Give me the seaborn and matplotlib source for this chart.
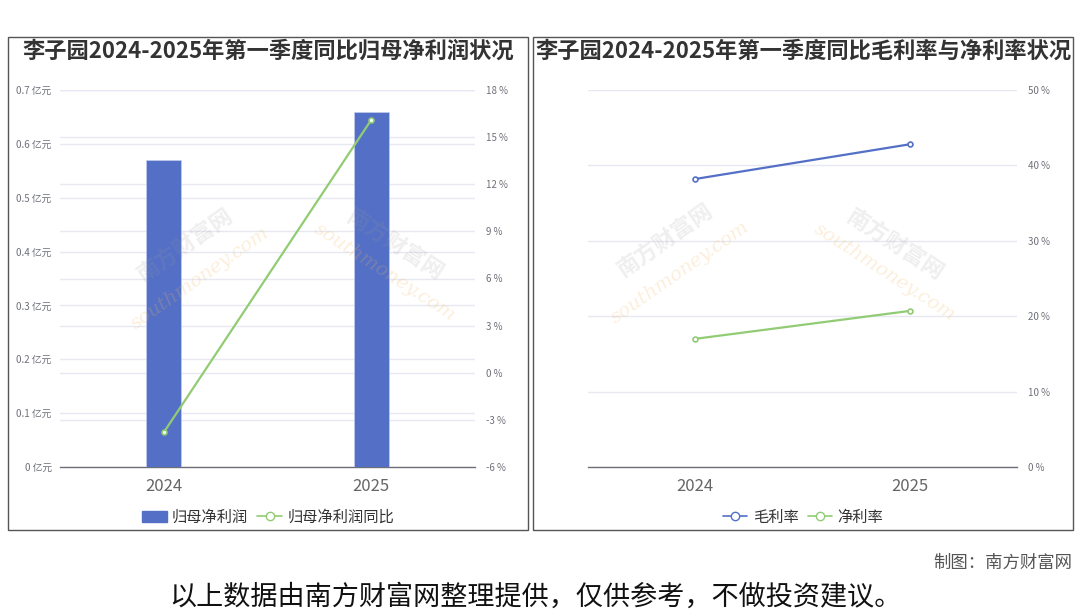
import matplotlib
matplotlib.use("Agg")
import matplotlib.pyplot as plt
import seaborn as sns
from matplotlib.patches import Rectangle, Patch
from matplotlib.lines import Line2D
from matplotlib.transforms import blended_transform_factory

# ---------------- data ----------------
years = ["2024", "2025"]
net_profit = [0.57, 0.66]          # 归母净利润 (亿元)
net_profit_yoy = [-3.8, 16.1]      # 归母净利润同比 (%)
gross_margin = [38.2, 42.8]        # 毛利率 (%)
net_margin = [17.0, 20.7]          # 净利率 (%)

profit_ticks = [0, 0.1, 0.2, 0.3, 0.4, 0.5, 0.6, 0.7]
yoy_ticks = [-6, -3, 0, 3, 6, 9, 12, 15, 18]
margin_ticks = [0, 10, 20, 30, 40, 50]

title_left = "李子园2024-2025年第一季度同比归母净利润状况"
title_right = "李子园2024-2025年第一季度同比毛利率与净利率状况"

BLUE = "#5470c6"
GREEN = "#91cc75"
GRID = "#e6e9f2"
AXC = "#6e7079"
LBL = "#6e7079"

sns.set_theme(style="white")
plt.rcParams["font.family"] = ["Noto Sans CJK SC", "DejaVu Sans"]

W, H = 1080, 614
fig = plt.figure(figsize=(10.8, 6.14), dpi=100)
fig.patch.set_facecolor("white")


def box(x0, y0, x1, y1):
    return [x0 / W, 1 - y1 / H, (x1 - x0) / W, (y1 - y0) / H]


def fx(px):
    return px / W


def fy(py):
    return 1 - py / H


# ---------------- faint watermarks (inside plot areas) ----------------
def wm(x, y, rot, size):
    fig.text(fx(x), fy(y), "南方财富网", fontsize=size, color="#9a9a9a", alpha=0.16,
             rotation=rot, ha="center", va="center", fontweight="bold", zorder=0)


def wm_en(x, y, rot, size):
    fig.text(fx(x), fy(y), "southmoney.com", fontsize=size, color="#f5b25a", alpha=0.22,
             rotation=rot, ha="center", va="center", family="DejaVu Serif",
             style="italic", zorder=0)


wm(185, 245, 35, 16)
wm_en(200, 278, 35, 14)
wm(395, 245, -33, 16)
wm_en(385, 272, -33, 14)
wm(665, 240, 35, 16)
wm_en(680, 272, 35, 14)
wm(895, 245, -33, 16)
wm_en(885, 272, -33, 14)

# ---------------- panel frames ----------------
for (x0, x1) in [(8, 528), (533, 1073)]:
    fig.patches.append(Rectangle((fx(x0), fy(530)), (x1 - x0) / W, (530 - 37) / H,
                                 transform=fig.transFigure, fill=False,
                                 edgecolor="#555555", linewidth=1.0, zorder=1))

fig.text(fx(268), fy(51), title_left, ha="center", va="center", fontsize=16,
         fontweight="bold", color="#333333")
fig.text(fx(803), fy(51), title_right, ha="center", va="center", fontsize=16,
         fontweight="bold", color="#333333")


def style_cat_axis(ax, n):
    ax.set_xlim(-0.5, n - 0.5)
    ax.set_xticks(range(n))
    ax.set_xticklabels(years, fontsize=12, color="#666666")
    ax.set_xticks([i - 0.5 for i in range(n + 1)], minor=True)
    ax.tick_params(axis="x", which="major", length=0, pad=8)
    ax.tick_params(axis="x", which="minor", length=5, width=1, color=AXC, direction="out")
    for s in ["top", "left", "right"]:
        ax.spines[s].set_visible(False)
    ax.spines["bottom"].set_color(AXC)
    ax.spines["bottom"].set_linewidth(1)
    ax.set_xlabel("")
    ax.set_ylabel("")


# ---------------- left chart ----------------
ax1 = fig.add_axes(box(60, 90, 475, 467))
ax1.patch.set_alpha(0)
sns.barplot(x=years, y=net_profit, ax=ax1, color=BLUE, saturation=1, width=0.17,
            edgecolor="#c5cdf0", linewidth=0.5, zorder=3)
ax1.set_ylim(0, 0.7)
ax1.set_yticks(profit_ticks)
ax1.set_yticklabels([f"{v:g} 亿元" for v in profit_ticks], fontsize=7, color=LBL)
ax1.tick_params(axis="y", length=0, pad=6)
ax1.yaxis.grid(True, color=GRID, linewidth=1)
ax1.set_axisbelow(True)
style_cat_axis(ax1, len(years))

ax2 = ax1.twinx()
ax2.patch.set_alpha(0)
sns.pointplot(x=years, y=net_profit_yoy, ax=ax2, color=GREEN, markers="o",
              linestyles="-", linewidth=1.6, markersize=3.5, markeredgewidth=1.2,
              markerfacecolor="white")
for ln in ax2.lines:
    ln.set_markerfacecolor("white")
ax2.set_ylim(-6, 18)
ax2.set_yticks(yoy_ticks)
ax2.set_yticklabels([f"{v:g} %" for v in yoy_ticks], fontsize=7, color=LBL)
ax2.tick_params(axis="y", length=0, pad=8)
style_cat_axis(ax2, len(years))
ax2.spines["bottom"].set_visible(False)
ax2.tick_params(axis="x", which="both", length=0, labelbottom=False)
# right-axis gridlines drawn beneath the bars
tr = blended_transform_factory(ax1.transAxes, ax2.transData)
for v in yoy_ticks[1:]:
    ax1.add_line(Line2D([0, 1], [v, v], transform=tr, color=GRID, linewidth=1, zorder=0.5))

# ---------------- right chart ----------------
ax3 = fig.add_axes(box(588, 90, 1017, 467))
ax3.patch.set_alpha(0)
sns.pointplot(x=years, y=gross_margin, ax=ax3, color=BLUE, markers="o", linestyles="-",
              linewidth=1.6, markersize=3.5, markeredgewidth=1.2, markerfacecolor="white")
sns.pointplot(x=years, y=net_margin, ax=ax3, color=GREEN, markers="o", linestyles="-",
              linewidth=1.6, markersize=3.5, markeredgewidth=1.2, markerfacecolor="white")
for ln in ax3.lines:
    ln.set_markerfacecolor("white")
ax3.set_ylim(0, 50)
ax3.yaxis.tick_right()
ax3.set_yticks(margin_ticks)
ax3.set_yticklabels([f"{v:g} %" for v in margin_ticks], fontsize=7, color=LBL)
ax3.tick_params(axis="y", length=0, pad=8)
ax3.yaxis.grid(True, color=GRID, linewidth=1)
ax3.set_axisbelow(True)
style_cat_axis(ax3, len(years))

# ---------------- legends ----------------
h_bar = Patch(facecolor=BLUE, edgecolor=BLUE, label="归母净利润")
h_yoy = Line2D([], [], color=GREEN, marker="o", markerfacecolor="white", markersize=6,
               linewidth=1.2, label="归母净利润同比")
fig.legend(handles=[h_bar, h_yoy], loc="center", bbox_to_anchor=(fx(268), fy(517)),
           ncol=2, frameon=False, fontsize=11, handlelength=1.6, handletextpad=0.35,
           columnspacing=0.6, labelcolor="#333333")

h_gm = Line2D([], [], color=BLUE, marker="o", markerfacecolor="white", markersize=6,
              linewidth=1.2, label="毛利率")
h_nm = Line2D([], [], color=GREEN, marker="o", markerfacecolor="white", markersize=6,
              linewidth=1.2, label="净利率")
fig.legend(handles=[h_gm, h_nm], loc="center", bbox_to_anchor=(fx(803), fy(517)),
           ncol=2, frameon=False, fontsize=11, handlelength=1.6, handletextpad=0.35,
           columnspacing=0.6, labelcolor="#333333")

# ---------------- footers ----------------
fig.text(fx(1072), fy(563), "制图：南方财富网", ha="right", va="center", fontsize=12.5,
         color="#555555")
fig.text(fx(535), fy(597), "以上数据由南方财富网整理提供，仅供参考，不做投资建议。",
         ha="center", va="center", fontsize=19.5, color="#111111")

fig.savefig("out.png", dpi=100, facecolor="white")
